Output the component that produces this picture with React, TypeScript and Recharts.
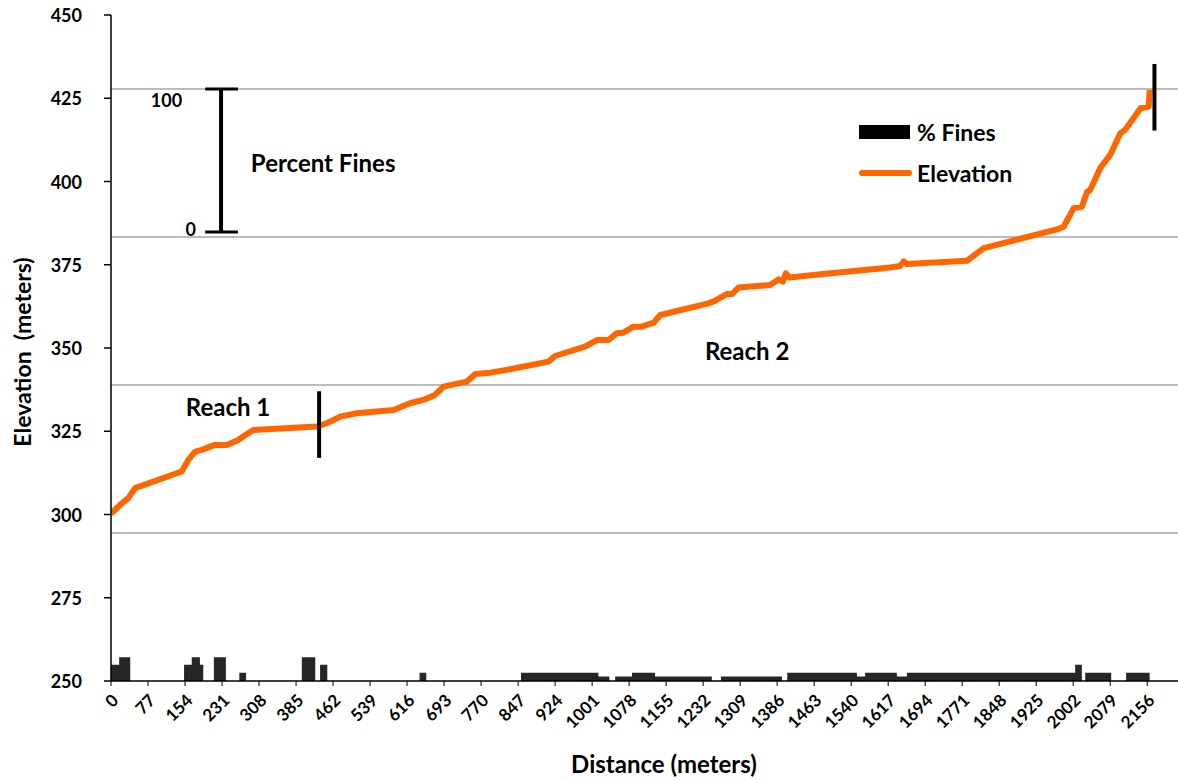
import React from "react";
import {
  ComposedChart,
  Line,
  Area,
  XAxis,
  YAxis,
  ReferenceLine,
  ReferenceDot,
} from "recharts";

// ---- data ----
const elevDistance = [
  0, 19, 36, 43, 50, 147, 161, 175, 189, 216, 241, 265, 275, 296, 428, 449, 477, 511, 588, 622,
  650, 674, 692, 740, 758, 789, 841, 910, 924, 986, 1011, 1035, 1052, 1066, 1087, 1104, 1129,
  1143, 1243, 1257, 1281, 1292, 1306, 1371, 1389, 1398, 1404, 1411, 1482, 1621, 1642, 1649, 1656,
  1781, 1816, 1968, 1982, 2003, 2020, 2031, 2037, 2058, 2079, 2100, 2110, 2142, 2159, 2161,
];
const elevation = [
  300.2, 302.9, 304.9, 306.4, 307.9, 312.9, 316.4, 318.9, 319.4, 320.9, 320.9, 322.4, 323.4,
  325.4, 326.4, 327.4, 329.4, 330.4, 331.4, 333.4, 334.4, 335.9, 338.4, 339.9, 342.2, 342.6,
  343.9, 345.9, 347.6, 350.4, 352.4, 352.4, 354.4, 354.6, 356.4, 356.4, 357.6, 359.9, 363.4,
  364.2, 366.2, 366.2, 368.2, 368.9, 370.6, 369.9, 372.4, 371.2, 372.2, 374.2, 374.6, 376.0,
  375.2, 376.2, 380.0, 385.6, 386.4, 392.0, 392.4, 396.9, 397.4, 404.0, 408.0, 414.5, 415.5,
  422.0, 422.5, 427.5,
];

// % fines, each value holds from its distance to the next one
const finesDistance = [
  0, 17, 40, 152, 168, 185, 192, 214, 239, 267, 281, 397, 425, 435, 450, 642, 656, 853, 1014,
  1037, 1049, 1084, 1132, 1250, 1269, 1396, 1407, 1552, 1569, 1635, 1656, 2006, 2020, 2027, 2081,
  2112, 2161,
];
const finesPercent = [
  11, 16, 0, 11, 16, 11, 0, 16, 0, 5.5, 0, 16, 0, 11, 0, 5.5, 0, 5.5, 3, 0, 3, 5.5, 3, 0, 3, 0,
  5.5, 3, 5.5, 3, 5.5, 11, 0, 5.5, 0, 5.5, 0,
];

const xTicks = [
  0, 77, 154, 231, 308, 385, 462, 539, 616, 693, 770, 847, 924, 1001, 1078, 1155, 1232, 1309,
  1386, 1463, 1540, 1617, 1694, 1771, 1848, 1925, 2002, 2079, 2156,
];
const yTicks = [250, 275, 300, 325, 350, 375, 400, 425, 450];
const finesGridValues = [100, 200, 300, 400];

// reach boundary markers (distance, elevation low, elevation high)
const reachMarkers = [
  { d: 433, lo: 317, hi: 337 },
  { d: 2171, lo: 415.3, hi: 435.3 },
];

// "Percent Fines" scale bar drawn in elevation units
const scaleBar = { d: 229, capFrom: 196, capTo: 264, lo: 384.8, hi: 427.8 };

const annotations = [
  { d: 148, e: 424.5, text: "100", anchor: "end", size: 18 },
  { d: 177, e: 385.7, text: "0", anchor: "end", size: 18 },
  { d: 291, e: 405.6, text: "Percent Fines", anchor: "start", size: 24 },
  { d: 243.5, e: 332.3, text: "Reach 1", anchor: "middle", size: 24 },
  { d: 1323.6, e: 349.1, text: "Reach 2", anchor: "middle", size: 24 },
];

const lineData = elevDistance.map((d, i) => ({ d, elev: elevation[i] }));
const finesData = finesDistance.map((d, i) => ({ d, fines: finesPercent[i] }));

const FONT = "Lato, 'Open Sans', sans-serif";
const ORANGE = "#FF6600";

const XTick = (props: any) => {
  const { x, y, payload } = props;
  const ax = x + 4;
  const ay = y + 9;
  return (
    <text
      x={ax}
      y={ay}
      transform={`rotate(-45, ${ax}, ${ay})`}
      textAnchor="end"
      dominantBaseline="central"
      fontFamily={FONT}
      fontWeight="bold"
      fontSize={17}
      fill="#000"
    >
      {payload.value}
    </text>
  );
};

const YTick = (props: any) => {
  const { x, y, payload } = props;
  return (
    <text
      x={x}
      y={y}
      textAnchor="end"
      dominantBaseline="central"
      fontFamily={FONT}
      fontWeight="bold"
      fontSize={18}
      fill="#000"
    >
      {payload.value}
    </text>
  );
};

const YLabel = (props: any) => {
  const vb = props.viewBox || { x: 0, y: 0, height: 0 };
  const cx = vb.x + 22;
  const cy = vb.y + vb.height / 2 + 4;
  return (
    <text
      x={cx}
      y={cy}
      transform={`rotate(-90, ${cx}, ${cy})`}
      textAnchor="middle"
      dominantBaseline="central"
      fontFamily={FONT}
      fontWeight="bold"
      fontSize={23}
      fill="#000"
      style={{ whiteSpace: "pre" }}
    >
      {"Elevation  (meters)"}
    </text>
  );
};

const XLabel = (props: any) => {
  const vb = props.viewBox || { x: 0, y: 0, width: 0 };
  return (
    <text
      x={vb.x + 553}
      y={vb.y + 82}
      textAnchor="middle"
      dominantBaseline="central"
      fontFamily={FONT}
      fontWeight="bold"
      fontSize={24}
      fill="#000"
    >
      Distance (meters)
    </text>
  );
};

const makeTextLabel = (text: string, anchor: string, size: number) => (props: any) => {
  const vb = props.viewBox || { x: 0, y: 0, width: 0, height: 0 };
  const cx = vb.x + (vb.width || 0) / 2;
  const cy = vb.y + (vb.height || 0) / 2;
  return (
    <text
      x={cx}
      y={cy}
      textAnchor={anchor as any}
      dominantBaseline="central"
      fontFamily={FONT}
      fontWeight="bold"
      fontSize={size}
      fill="#000"
    >
      {text}
    </text>
  );
};

const LegendBox = () => (
  <div
    style={{
      position: "absolute",
      left: 859,
      top: 117,
      fontFamily: FONT,
      fontWeight: "bold",
      fontSize: 23,
      color: "#000",
      lineHeight: "28px",
    }}
  >
    <div style={{ display: "flex", alignItems: "center", height: 30 }}>
      <span
        style={{ display: "inline-block", width: 51, height: 14, background: "#000", marginRight: 7 }}
      />
      <span>% Fines</span>
    </div>
    <div style={{ display: "flex", alignItems: "center", height: 30, marginTop: 11 }}>
      <span
        style={{
          display: "inline-block",
          width: 53,
          height: 6,
          background: ORANGE,
          borderRadius: 3,
          marginRight: 5,
        }}
      />
      <span>Elevation</span>
    </div>
  </div>
);

export default function App() {
  return (
    <div
      style={{
        position: "absolute",
        left: 0,
        top: 0,
        width: 1178,
        height: 780,
        overflow: "hidden",
        background: "#fff",
      }}
    >
      <ComposedChart
        width={1178}
        height={780}
        margin={{ top: 15, right: 0, bottom: 0, left: 0 }}
      >
        <XAxis
          type="number"
          dataKey="d"
          domain={[0, 2220]}
          ticks={xTicks}
          interval={0}
          allowDataOverflow
          height={99}
          tick={<XTick />}
          tickSize={5}
          tickLine={{ stroke: "#000" }}
          axisLine={{ stroke: "#000", strokeWidth: 1.5 }}
          label={<XLabel />}
        />
        <YAxis
          yAxisId="elev"
          type="number"
          domain={[250, 450]}
          ticks={yTicks}
          interval={0}
          allowDataOverflow
          width={111}
          tickSize={7}
          tickMargin={22}
          tick={<YTick />}
          tickLine={{ stroke: "#000", strokeWidth: 1.5 }}
          axisLine={{ stroke: "#000", strokeWidth: 1.5 }}
          label={<YLabel />}
        />
        <YAxis
          yAxisId="fines"
          orientation="right"
          type="number"
          domain={[0, 450]}
          allowDataOverflow
          hide
        />
        {finesGridValues.map((v) => (
          <ReferenceLine
            key={`g${v}`}
            yAxisId="fines"
            y={v}
            stroke="#a6a6a6"
            strokeWidth={1.5}
          />
        ))}
        <Area
          yAxisId="fines"
          data={finesData}
          dataKey="fines"
          type="stepAfter"
          fill="#262626"
          fillOpacity={1}
          stroke="none"
          isAnimationActive={false}
          name="% Fines"
        />
        <Line
          yAxisId="elev"
          data={lineData}
          dataKey="elev"
          type="linear"
          stroke={ORANGE}
          strokeWidth={6}
          strokeLinejoin="round"
          dot={false}
          activeDot={false}
          isAnimationActive={false}
          name="Elevation"
        />
        {reachMarkers.map((m, i) => (
          <ReferenceLine
            key={`rm${i}`}
            yAxisId="elev"
            segment={[
              { x: m.d, y: m.lo },
              { x: m.d, y: m.hi },
            ]}
            stroke="#000"
            strokeWidth={4}
            ifOverflow="visible"
          />
        ))}
        <ReferenceLine
          yAxisId="elev"
          segment={[
            { x: scaleBar.d, y: scaleBar.lo },
            { x: scaleBar.d, y: scaleBar.hi },
          ]}
          stroke="#000"
          strokeWidth={4}
          ifOverflow="visible"
        />
        <ReferenceLine
          yAxisId="elev"
          segment={[
            { x: scaleBar.capFrom, y: scaleBar.hi },
            { x: scaleBar.capTo, y: scaleBar.hi },
          ]}
          stroke="#000"
          strokeWidth={3}
          ifOverflow="visible"
        />
        <ReferenceLine
          yAxisId="elev"
          segment={[
            { x: scaleBar.capFrom, y: scaleBar.lo },
            { x: scaleBar.capTo, y: scaleBar.lo },
          ]}
          stroke="#000"
          strokeWidth={3}
          ifOverflow="visible"
        />
        {annotations.map((a, i) => (
          <ReferenceDot
            key={`an${i}`}
            yAxisId="elev"
            x={a.d}
            y={a.e}
            r={1}
            fill="none"
            stroke="none"
            ifOverflow="visible"
            label={makeTextLabel(a.text, a.anchor, a.size)}
          />
        ))}
      </ComposedChart>
      <LegendBox />
    </div>
  );
}
